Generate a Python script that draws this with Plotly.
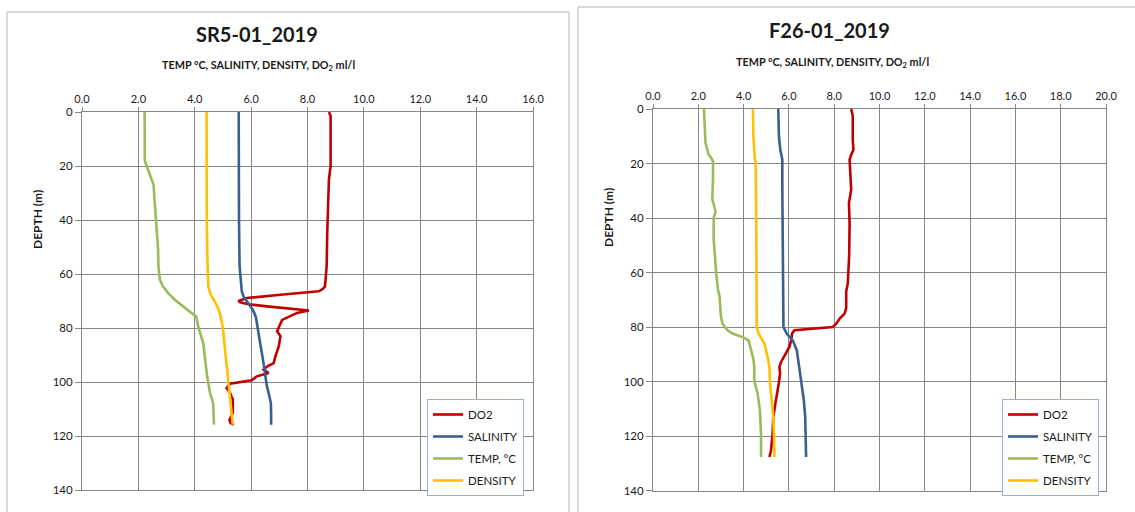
import plotly.graph_objects as go

# ---------------- DATA ----------------
series_names = ["DO2", "SALINITY", "TEMP, °C", "DENSITY"]

# SR5-01_2019 (left)
sr5_do2_depth = [0, 1.5, 5, 20, 25, 32, 45, 57, 62, 64.6, 65.5, 66.4, 67.7, 68.9, 70, 70.5, 71.2, 72, 73.5, 74.4,
                 77, 79.4, 81.2, 83, 86.8, 90.5, 93, 94.2, 95.4, 96.7, 97.9, 99.4, 100.6, 102.2, 104, 106.5,
                 111.5, 114, 115.2, 115.8]
sr5_do2 = [8.76, 8.82, 8.82, 8.82, 8.76, 8.73, 8.70, 8.68, 8.65, 8.62, 8.55, 8.40, 7.04, 5.85, 5.55, 5.61, 5.90,
           6.56, 8.05, 7.63, 7.10, 7.01, 6.92, 7.04, 6.98, 6.86, 6.80, 6.58, 6.44, 6.62, 6.20, 6.02, 5.25, 5.13,
           5.25, 5.35, 5.35, 5.23, 5.27, 5.39]

sr5_sal_depth = [0, 20, 40, 57, 64.6, 66.5, 68.3, 70.7, 73.2, 76, 79.4, 85.6, 91.7, 97.9, 101.6, 104, 107.8, 112,
                 115.8]
sr5_sal = [5.56, 5.56, 5.57, 5.59, 5.64, 5.67, 5.73, 5.90, 6.06, 6.17, 6.23, 6.32, 6.42, 6.50, 6.56, 6.62, 6.70,
           6.71, 6.71]

sr5_temp_depth = [0, 5, 10, 15, 18, 19, 22, 25, 27, 32, 40, 45, 51, 57, 60, 62, 64.6, 67, 69.6, 71, 72.5, 74.4,
                  75.7, 77, 79.4, 85.6, 91.7, 97.9, 104, 107.8, 112, 115.8]
sr5_temp = [2.22, 2.22, 2.22, 2.22, 2.23, 2.26, 2.36, 2.45, 2.54, 2.57, 2.62, 2.65, 2.70, 2.71, 2.73, 2.76, 2.87,
            3.05, 3.30, 3.48, 3.66, 3.88, 4.04, 4.08, 4.12, 4.30, 4.36, 4.44, 4.54, 4.65, 4.67, 4.68]

sr5_dens_depth = [0, 20, 40, 55, 62, 64.6, 66.5, 68.3, 70, 72, 74.5, 77, 80, 85.6, 91.7, 97.9, 104, 110, 115.8]
sr5_dens = [4.42, 4.42, 4.43, 4.45, 4.46, 4.48, 4.53, 4.60, 4.70, 4.80, 4.89, 4.95, 5.00, 5.05, 5.11, 5.17, 5.25,
            5.31, 5.35]

# F26-01_2019 (right)
f26_do2_depth = [0, 2.5, 11.3, 15, 16.8, 18.6, 29.6, 34.5, 41.9, 54, 63.9, 67, 73, 75.1, 76.9, 78.8, 80, 80.6,
                 81.2, 82.4, 84.9, 87.3, 89.2, 91, 92.9, 94.7, 97.1, 100.8, 104.5, 108.2, 113, 119.2, 125.3, 127,
                 127.7]
f26_do2 = [8.75, 8.82, 8.82, 8.85, 8.75, 8.68, 8.75, 8.65, 8.68, 8.66, 8.60, 8.53, 8.53, 8.46, 8.24, 8.09, 7.94,
           6.91, 6.24, 6.14, 6.10, 6.02, 5.90, 5.80, 5.65, 5.58, 5.61, 5.55, 5.46, 5.40, 5.31, 5.28, 5.21, 5.18,
           5.14]

f26_sal_depth = [0, 10, 15, 18.6, 29.6, 48, 73, 80, 82.4, 84.9, 88.6, 94.7, 100.8, 106.9, 113, 119.2, 127.7]
f26_sal = [5.53, 5.56, 5.62, 5.71, 5.71, 5.74, 5.76, 5.76, 5.90, 6.17, 6.35, 6.46, 6.58, 6.66, 6.72, 6.73, 6.76]

f26_temp_depth = [0, 7.6, 12.5, 15, 16.8, 18, 19.2, 24.7, 33.3, 35.5, 37.6, 40, 48, 60.2, 66.3, 68.8, 73, 76.3,
                  78.8, 81.2, 82.4, 83.7, 84.9, 88.6, 91.6, 94.7, 99.6, 104.5, 110.6, 119.2, 127.7]
f26_temp = [2.25, 2.28, 2.32, 2.40, 2.46, 2.57, 2.65, 2.65, 2.62, 2.70, 2.76, 2.68, 2.68, 2.79, 2.87, 2.94, 2.98,
            3.00, 3.07, 3.29, 3.51, 3.96, 4.22, 4.32, 4.43, 4.47, 4.47, 4.62, 4.72, 4.77, 4.77]

f26_dens_depth = [0, 10, 17.4, 19.8, 41.9, 73, 80, 82.4, 86.1, 91, 94.7, 100.8, 106.9, 113, 119.2, 127.7]
f26_dens = [4.41, 4.43, 4.49, 4.53, 4.56, 4.58, 4.58, 4.66, 4.92, 5.06, 5.14, 5.17, 5.25, 5.31, 5.34, 5.36]

chart_titles = ["SR5-01_2019", "F26-01_2019"]
x_title = "TEMP °C, SALINITY, DENSITY, DO<sub>2</sub> ml/l"
y_title = "DEPTH (m)"

# ---------------- STYLE ----------------
W, H = 1135, 512
FONT = "Lato"
TXT = "#1a1a1a"
GRID = "#878787"
colors = ["#C00000", "#376092", "#9BBB59", "#FFC000"]


def px(x):
    return x / W


def py(y):
    return 1 - y / H


fig = go.Figure()

left_sets = [(sr5_do2, sr5_do2_depth), (sr5_sal, sr5_sal_depth), (sr5_temp, sr5_temp_depth), (sr5_dens, sr5_dens_depth)]
right_sets = [(f26_do2, f26_do2_depth), (f26_sal, f26_sal_depth), (f26_temp, f26_temp_depth), (f26_dens, f26_dens_depth)]

for i, (vals, dep) in enumerate(left_sets):
    fig.add_trace(go.Scatter(x=vals, y=dep, mode="lines", name=series_names[i],
                             line=dict(color=colors[i], width=2.6),
                             xaxis="x", yaxis="y", legend="legend", legendgroup=f"L{i}"))
for i, (vals, dep) in enumerate(right_sets):
    fig.add_trace(go.Scatter(x=vals, y=dep, mode="lines", name=series_names[i],
                             line=dict(color=colors[i], width=2.6),
                             xaxis="x2", yaxis="y2", legend="legend2", legendgroup=f"R{i}"))

xcommon = dict(side="top", dtick=2, tick0=0, tickformat=".1f", showgrid=True, gridcolor=GRID, gridwidth=1,
               showline=True, linecolor=GRID, linewidth=1, mirror=True, ticks="outside", ticklen=4,
               tickcolor=GRID, zeroline=False, automargin=False,
               tickfont=dict(family=FONT, size=11, color=TXT), fixedrange=True)
ycommon = dict(range=[140, 0], dtick=20, tick0=0, showgrid=True, gridcolor=GRID, gridwidth=1,
               showline=True, linecolor=GRID, linewidth=1, mirror=True, ticks="outside", ticklen=6,
               tickcolor=GRID, zeroline=False, automargin=False,
               tickfont=dict(family=FONT, size=11.5, color=TXT), fixedrange=True)

legcommon = dict(xanchor="left", yanchor="top", bordercolor="#95B3D7", borderwidth=1, bgcolor="white",
                 font=dict(family=FONT, size=11.5, color=TXT), traceorder="grouped", tracegroupgap=3,
                 itemwidth=30)

fig.update_layout(
    template="none",
    width=W, height=H, margin=dict(l=0, r=0, t=0, b=0, pad=0, autoexpand=False),
    paper_bgcolor="white", plot_bgcolor="white",
    font=dict(family=FONT, color=TXT),
    xaxis=dict(domain=[px(82), px(533)], range=[0, 16], anchor="y", **xcommon),
    yaxis=dict(domain=[py(490), py(112)], anchor="x", **ycommon),
    xaxis2=dict(domain=[px(653), px(1106)], range=[0, 20], anchor="y2", **xcommon),
    yaxis2=dict(domain=[py(490.5), py(109)], anchor="x2", **ycommon),
    legend=dict(x=px(427), y=py(399), **legcommon),
    legend2=dict(x=px(1002), y=py(399), **legcommon),
    showlegend=True,
)

# chart frames
fig.add_shape(type="rect", xref="paper", yref="paper", x0=px(7), x1=px(569), y0=-0.1, y1=py(12),
              line=dict(color="#b3b3b3", width=1), layer="below")
fig.add_shape(type="rect", xref="paper", yref="paper", x0=px(578), x1=1.1, y0=-0.1, y1=py(7),
              line=dict(color="#b3b3b3", width=1), layer="below")

ann = [
    dict(text=f"<b>{chart_titles[0]}</b>", x=px(257), y=py(34), size=20),
    dict(text=f"<b>{x_title}</b>", x=px(258), y=py(65), size=10.8),
    dict(text=f"<b>{chart_titles[1]}</b>", x=px(829), y=py(30), size=20),
    dict(text=f"<b>{x_title}</b>", x=px(832), y=py(62), size=10.8),
]
for a in ann:
    fig.add_annotation(text=a["text"], x=a["x"], y=a["y"], xref="paper", yref="paper", showarrow=False,
                       xanchor="center", yanchor="middle", font=dict(family=FONT, size=a["size"], color=TXT))
for xx, yy in [(37, 220), (608, 218)]:
    fig.add_annotation(text=f"<b>{y_title}</b>", x=px(xx), y=py(yy), xref="paper", yref="paper",
                       showarrow=False, textangle=-90, xanchor="center", yanchor="middle",
                       font=dict(family=FONT, size=12, color=TXT))

fig.write_html("out.html")
